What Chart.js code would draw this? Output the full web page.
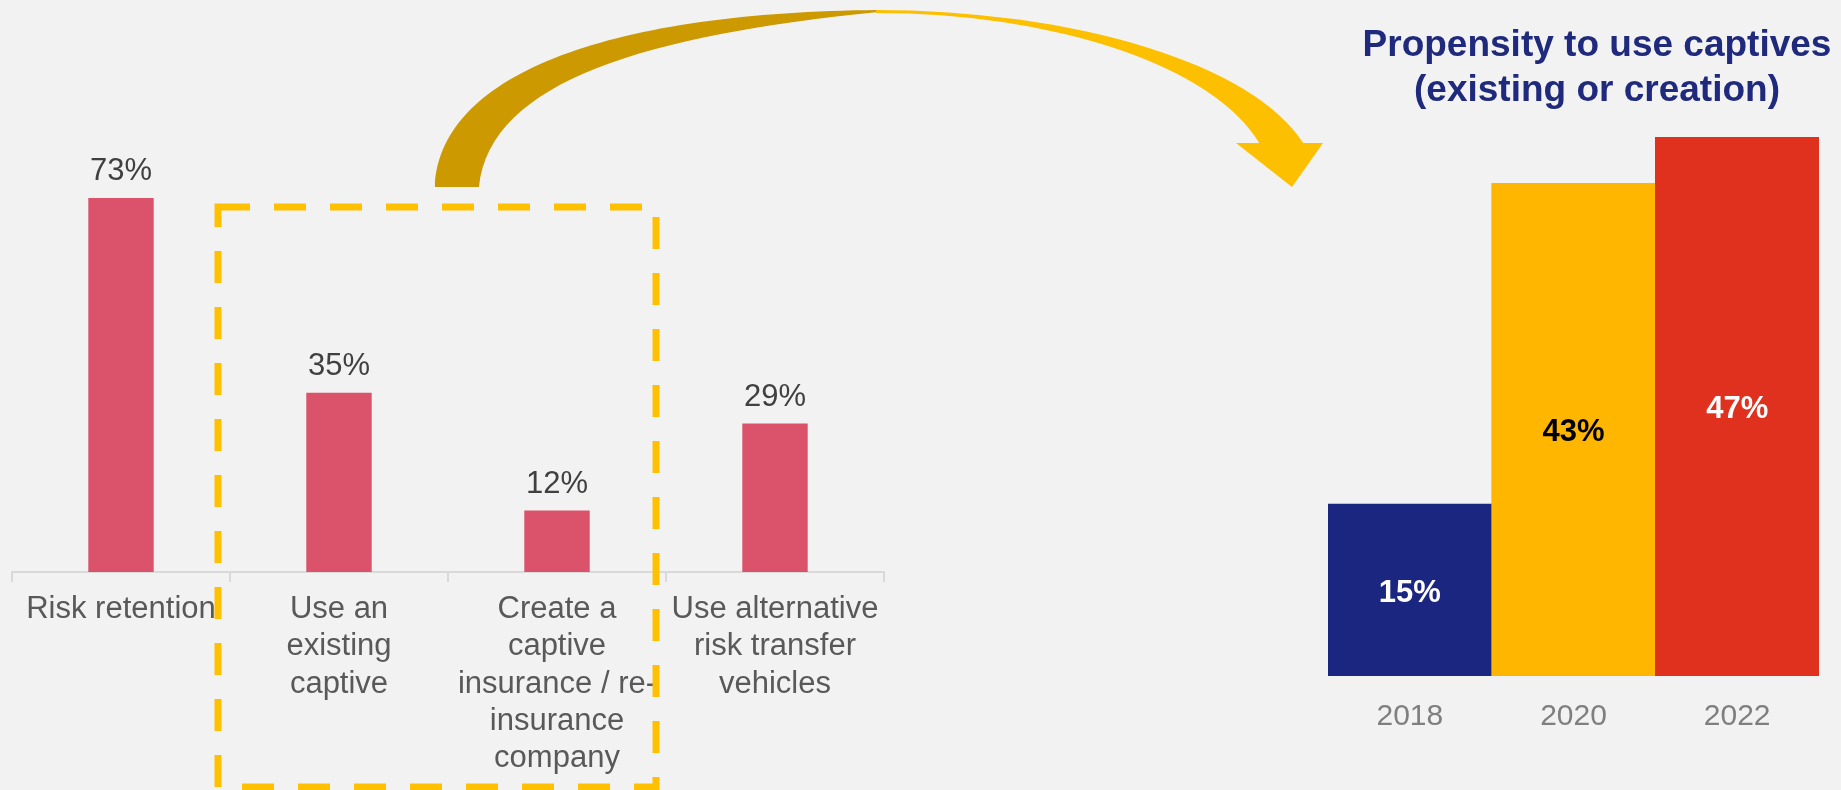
<!DOCTYPE html>
<html>
<head>
<meta charset="utf-8">
<script src="https://cdn.jsdelivr.net/npm/chart.js@4.4.1/dist/chart.umd.min.js"></script>
<style>
  html, body { margin: 0; padding: 0; background: #f2f2f2; }
  body { width: 1841px; height: 790px; position: relative; overflow: hidden; font-family: "Liberation Sans", Arial, sans-serif; }
  #leftBox { position: absolute; left: 0; top: 0; width: 900px; height: 790px; }
  #rightBox { position: absolute; left: 1300px; top: 0; width: 541px; height: 790px; }
  #overlay { position: absolute; left: 0; top: 0; pointer-events: none; }
  #rightTitle {
    position: absolute; left: 1357px; top: 21px; width: 480px;
    text-align: center; color: #1f2a7c; font-weight: bold; font-size: 37px; line-height: 45px;
  }
</style>
</head>
<body>
<div id="leftBox"><canvas id="leftChart"></canvas></div>
<div id="rightBox"><canvas id="rightChart"></canvas></div>
<div id="rightTitle">Propensity to use captives<br>(existing or creation)</div>
<canvas id="overlay" width="1841" height="790"></canvas>
<script>
const optionLabels = [
    ['Risk retention'],
    ['Use an', 'existing', 'captive'],
    ['Create a', 'captive', 'insurance / re-', 'insurance', 'company'],
    ['Use alternative', 'risk transfer', 'vehicles']
];
const optionValues = [73, 35, 12, 29];

const years = ['2018', '2020', '2022'];
const captiveValues = [15, 43, 47];
const yearColors = ['#1b2680', '#ffb600', '#e0301e'];
const yearLabelColors = ['#ffffff', '#000000', '#ffffff'];

const FONT = '"Liberation Sans", Arial, sans-serif';

// labels above the bars on the left chart
const topLabels = {
    id: 'topLabels',
    afterDatasetsDraw(chart) {
        const ctx = chart.ctx;
        const meta = chart.getDatasetMeta(0);
        ctx.save();
        ctx.font = '31px ' + FONT;
        ctx.fillStyle = '#404040';
        ctx.textAlign = 'center';
        ctx.textBaseline = 'middle';
        meta.data.forEach((bar, i) => {
            ctx.fillText(optionValues[i] + '%', bar.x, bar.y - 26);
        });
        ctx.restore();
    }
};

// labels in the middle of the bars on the right chart
const midLabels = {
    id: 'midLabels',
    afterDatasetsDraw(chart) {
        const ctx = chart.ctx;
        const meta = chart.getDatasetMeta(0);
        ctx.save();
        ctx.font = 'bold 31px ' + FONT;
        ctx.textAlign = 'center';
        ctx.textBaseline = 'middle';
        meta.data.forEach((bar, i) => {
            ctx.fillStyle = yearLabelColors[i];
            ctx.fillText(captiveValues[i] + '%', bar.x, (bar.y + bar.base) / 2 + 3);
        });
        ctx.restore();
    }
};

new Chart(document.getElementById('leftChart'), {
    type: 'bar',
    data: {
        labels: optionLabels,
        datasets: [{
            data: optionValues,
            backgroundColor: '#db536a',
            borderWidth: 0,
            barPercentage: 0.3,
            categoryPercentage: 1
        }]
    },
    options: {
        responsive: true,
        maintainAspectRatio: false,
        animation: false,
        layout: { padding: { left: 12, right: 16, top: 162, bottom: 0 } },
        plugins: { legend: { display: false }, tooltip: { enabled: false } },
        scales: {
            x: {
                grid: { offset: true, drawOnChartArea: false, drawTicks: true, tickLength: 10, color: '#d9d9d9', lineWidth: 2 },
                border: { display: true, color: '#d9d9d9', width: 2 },
                ticks: { color: '#595959', font: { family: FONT, size: 31, lineHeight: 1.2 }, padding: 9, maxRotation: 0, autoSkip: false },
                afterFit: scale => { scale.height = 790 - 572; }
            },
            y: { display: false, min: 0, max: 80 }
        }
    },
    plugins: [topLabels]
});

new Chart(document.getElementById('rightChart'), {
    type: 'bar',
    data: {
        labels: years,
        datasets: [{
            data: captiveValues,
            backgroundColor: yearColors,
            borderWidth: 0,
            barPercentage: 1,
            categoryPercentage: 1
        }]
    },
    options: {
        responsive: true,
        maintainAspectRatio: false,
        animation: false,
        layout: { padding: { left: 28, right: 22, top: 103, bottom: 0 } },
        plugins: { legend: { display: false }, tooltip: { enabled: false } },
        scales: {
            x: {
                grid: { display: false },
                border: { display: false },
                ticks: { color: '#7f7f7f', font: { family: FONT, size: 30, lineHeight: 1.2 }, padding: 15, maxRotation: 0 },
                afterFit: scale => { scale.height = 790 - 676; }
            },
            y: { display: false, min: 0, max: 50 }
        }
    },
    plugins: [midLabels]
});

// decorations: curved arrow and dashed box
function drawOverlay() {
    const ctx = document.getElementById('overlay').getContext('2d');

    // left (shaded) half of the arc
    ctx.beginPath();
    ctx.moveTo(435, 187);
    ctx.bezierCurveTo(440, 70, 620, 12, 878, 10);
    ctx.lineTo(878, 12);
    ctx.bezierCurveTo(650, 35, 490, 80, 479, 187);
    ctx.closePath();
    ctx.fillStyle = '#cc9900';
    ctx.fill();

    // right half
    const cx = 876, cy = 187;
    const endOuter = 2 * Math.PI - Math.asin(44 / 177);
    const endInner = 2 * Math.PI - Math.asin(44 / 174);
    ctx.beginPath();
    ctx.ellipse(cx, cy, 441, 177, 0, 1.5 * Math.PI, endOuter);
    ctx.ellipse(cx, cy, 396, 174, 0, endInner, 1.5 * Math.PI, true);
    ctx.closePath();
    ctx.fillStyle = '#fcc000';
    ctx.fill();

    // arrow head
    ctx.beginPath();
    ctx.moveTo(1236, 143);
    ctx.lineTo(1323, 143);
    ctx.lineTo(1292, 187);
    ctx.closePath();
    ctx.fill();

    // dashed box
    ctx.strokeStyle = '#ffc000';
    ctx.lineWidth = 7;
    ctx.setLineDash([32, 24]);
    ctx.strokeRect(218, 207, 438, 580);
}
drawOverlay();
</script>
</body>
</html>
